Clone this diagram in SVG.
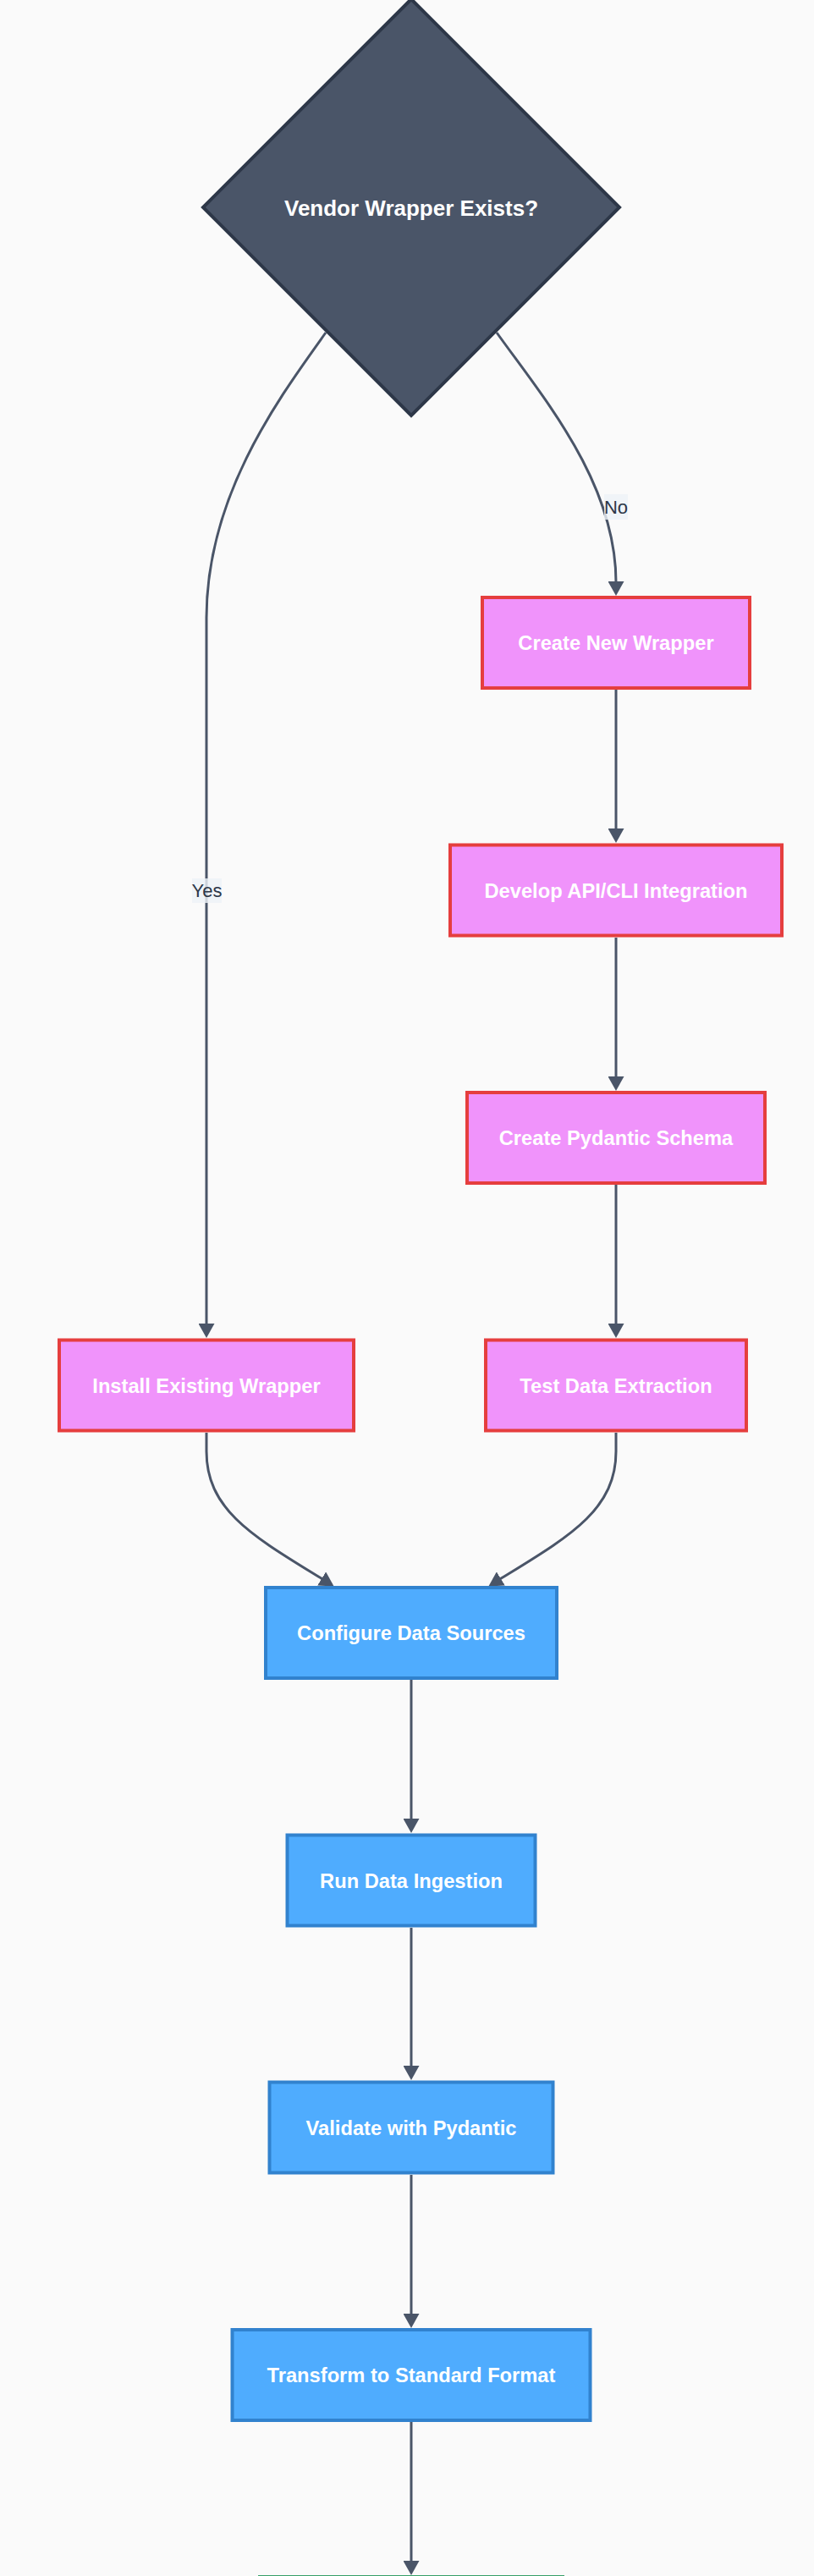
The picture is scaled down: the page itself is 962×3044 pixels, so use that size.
<svg xmlns="http://www.w3.org/2000/svg" width="962" height="3044" viewBox="0 0 962 3044">
<style>
.edge{fill:none;stroke:#4a5568;stroke-width:3}
.pink{fill:#f093fb;stroke:#e53e3e;stroke-width:4}
.blue{fill:#4facfe;stroke:#3182ce;stroke-width:4}
.green{fill:#43e97b;stroke:#38a169;stroke-width:4}
.dec{fill:#4a5568;stroke:#2d3748;stroke-width:4}
.nt{font-family:"Liberation Sans",Arial,sans-serif;font-weight:bold;font-size:23.7px;fill:#ffffff;text-anchor:middle}
.dt{font-family:"Liberation Sans",Arial,sans-serif;font-weight:bold;font-size:26px;fill:#ffffff;text-anchor:middle}
.lbg{fill:#edf2f7;opacity:0.8}
.lt{font-family:"Liberation Sans",Arial,sans-serif;font-size:22px;fill:#2d3748;text-anchor:middle}
</style>
<defs>
<marker id="arrow" viewBox="0 0 17 19" markerUnits="userSpaceOnUse" markerWidth="17" markerHeight="19" refX="1" refY="9.5" orient="auto">
<path d="M0,0 L17,9.5 L0,19 z" fill="#4a5568"/>
</marker>
</defs>
<rect x="0" y="0" width="962" height="3044" fill="#fafafa"/>
<g id="connectors">
<path class="edge" marker-end="url(#arrow)" d="M587,393 C642,470 728,570 728,688"/>
<path class="edge" marker-end="url(#arrow)" d="M385,393 C330,470 244,585 244,730 L244,1565"/>
<path class="edge" marker-end="url(#arrow)" d="M728,815 L728,980"/>
<path class="edge" marker-end="url(#arrow)" d="M728,1108 L728,1273"/>
<path class="edge" marker-end="url(#arrow)" d="M728,1400 L728,1565"/>
<path class="edge" marker-end="url(#arrow)" d="M244,1693 L244,1715 C244,1785 300,1816 381,1866"/>
<path class="edge" marker-end="url(#arrow)" d="M728,1693 L728,1715 C728,1785 672,1816 591,1866"/>
<path class="edge" marker-end="url(#arrow)" d="M486,1985 L486,2150"/>
<path class="edge" marker-end="url(#arrow)" d="M486,2278 L486,2442"/>
<path class="edge" marker-end="url(#arrow)" d="M486,2570 L486,2735"/>
<path class="edge" marker-end="url(#arrow)" d="M486,2862 L486,3027"/>
<g id="label-no">
<rect class="lbg" x="714" y="584" width="28" height="30"/>
<text class="lt" x="728" y="606.5">No</text>
</g>
<g id="label-yes">
<rect class="lbg" x="227" y="1038" width="35" height="29"/>
<text class="lt" x="244.5" y="1060">Yes</text>
</g>
</g>
<g id="decision">
<polygon class="dec" points="486,-1 732,245 486,491 240,245"/>
<text class="dt" x="486" y="255">Vendor Wrapper Exists?</text>
</g>
<g id="create-new-wrapper">
<rect class="pink" x="570" y="706" width="316" height="107"/>
<text class="nt" x="728" y="768">Create New Wrapper</text>
</g>
<g id="develop-integration">
<rect class="pink" x="532" y="998.5" width="392" height="107"/>
<text class="nt" x="728" y="1060.5">Develop API/CLI Integration</text>
</g>
<g id="create-schema">
<rect class="pink" x="552" y="1291" width="352" height="107"/>
<text class="nt" x="728" y="1353">Create Pydantic Schema</text>
</g>
<g id="test-extraction">
<rect class="pink" x="574" y="1583.5" width="308" height="107"/>
<text class="nt" x="728" y="1645.5">Test Data Extraction</text>
</g>
<g id="install-wrapper">
<rect class="pink" x="70" y="1583.5" width="348" height="107"/>
<text class="nt" x="244" y="1645.5">Install Existing Wrapper</text>
</g>
<g id="configure-sources">
<rect class="blue" x="314" y="1876" width="344" height="107"/>
<text class="nt" x="486" y="1938">Configure Data Sources</text>
</g>
<g id="run-ingestion">
<rect class="blue" x="339.5" y="2168.5" width="293" height="107"/>
<text class="nt" x="486" y="2230.5">Run Data Ingestion</text>
</g>
<g id="validate">
<rect class="blue" x="318.5" y="2460.5" width="335" height="107"/>
<text class="nt" x="486" y="2522.5">Validate with Pydantic</text>
</g>
<g id="transform">
<rect class="blue" x="274.5" y="2753" width="423" height="107"/>
<text class="nt" x="486" y="2815">Transform to Standard Format</text>
</g>
<g id="next-step">
<rect class="green" x="307" y="3045" width="358" height="107"/>
</g>
</svg>
